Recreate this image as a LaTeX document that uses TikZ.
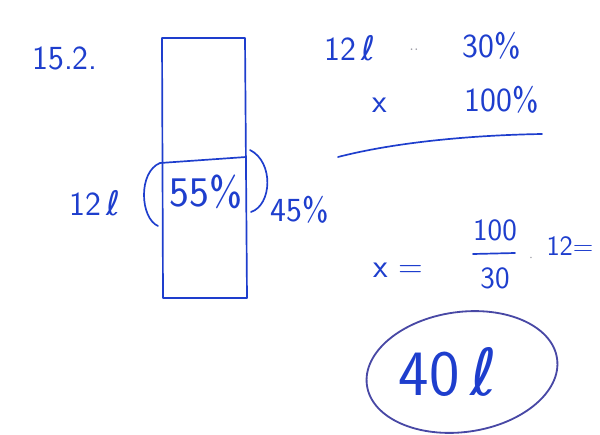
\documentclass[tikz,border=0pt]{standalone}
\usepackage{fontspec}
\usepackage{tikz}
\usetikzlibrary{positioning,calc}
\newfontfamily\ellfont{DejaVu Sans}
\newcommand{\litre}{{\ellfont ℓ}}
\definecolor{inkblue}{RGB}{30,62,205}
\definecolor{inkdark}{RGB}{72,72,165}
\definecolor{inkgray}{RGB}{150,150,160}

\begin{document}
\begin{tikzpicture}[
  x=0.025cm,y=-0.025cm,
  hand/.style={text=inkblue,inner sep=1pt,font=\sffamily\fontsize{24}{26}\selectfont},
  bighand/.style={hand,font=\sffamily\fontsize{30}{32}\selectfont},
  hugehand/.style={hand,font=\sffamily\fontsize{46}{48}\selectfont},
  stroke/.style={draw=inkblue,line width=1.2pt,line cap=round,line join=round},
  ring/.style={draw=inkdark,line width=1.3pt}
]
  \useasboundingbox (0,0) rectangle (600,435);

  \node[hand] (date) at (65,58) {15.2.};

  % tank
  \coordinate (tl) at (162,38);
  \coordinate (tr) at (245,38);
  \coordinate (br) at (247,298);
  \coordinate (bl) at (163,298);
  \coordinate (ml) at (160,163);
  \coordinate (mr) at (246,157);
  \draw[stroke] (tl) -- (tr) -- (br) -- (bl) -- cycle;
  \draw[stroke] (ml) -- (mr);
  \draw[stroke] (ml) .. controls (138,172) and (140,218) .. (158,226);
  \draw[stroke] (250,150) .. controls (274,162) and (272,205) .. (251,212);

  \node[hand] (full) at (95,203) {12\,\litre};
  \node[bighand] (part) at (206,192) {55\%};
  \node[hand] (rest) at (300,210) {45\%};

  % proportion
  \node[hand] (known) at (350,48) {12\,\litre};
  \node[text=inkgray,font=\large] (dots) at (414,50) {..};
  \node[hand] (knownp) at (492,46) {30\%};
  \node[hand] (unknown) at (380,105) {x};
  \node[hand] (unknownp) at (502,100) {100\%};
  \coordinate (ul) at (338,157);
  \coordinate (ur) at (542,134);
  \draw[stroke] (ul) .. controls (400,141) and (480,135) .. (ur);

  % calculation
  \node[hand] (xeq) at (398,270) {x =};
  \node[hand,font=\sffamily\fontsize{22}{24}\selectfont] (num) at (495,230) {100};
  \node[hand,font=\sffamily\fontsize{22}{24}\selectfont] (den) at (495,278) {30};
  \coordinate (fm) at ($(num.south)!0.5!(den.north)$);
  \draw[stroke] ($(fm)+(-22,0)$) -- ($(fm)+(20,-1)$);
  \node[text=inkgray] (mult) at (531,258) {$\cdot$};
  \node[hand,font=\sffamily\fontsize{20}{22}\selectfont] (twelve) at (570,246) {12=};

  % result
  \node[hugehand] (res) at (448,372) {40\,\litre};
  \draw[ring,rotate around={8:(462,372)}] (462,372) ellipse [x radius=96,y radius=60];
\end{tikzpicture}
\end{document}
